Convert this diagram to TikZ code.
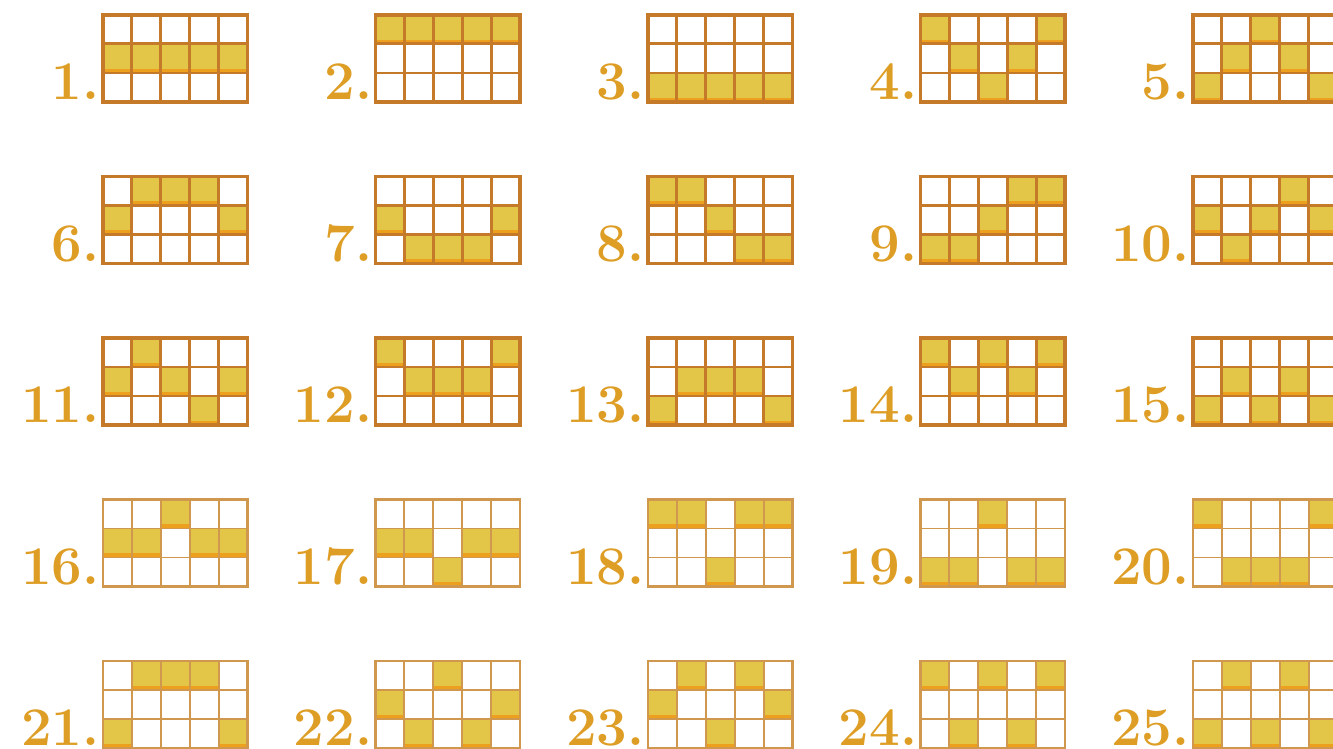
\documentclass[tikz,border=0pt]{standalone}
\usepackage{tikz}
\usetikzlibrary{calc}
\definecolor{linegold}{RGB}{196,122,40}
\definecolor{linetan}{RGB}{208,152,78}
\definecolor{cellgold}{RGB}{227,197,71}
\definecolor{celledge}{RGB}{236,160,30}
\definecolor{numgold}{RGB}{222,158,38}
\tikzset{
  gridline/.style={draw=#1},
  cellfill/.style={fill=cellgold},
  numlabel/.style={text=numgold, font=\fontsize{31}{31}\selectfont\bfseries, inner sep=0pt, anchor=base east}
}

\begin{document}
\begin{tikzpicture}[x=0.02cm,y=-0.02cm]
\useasboundingbox (0,0) rectangle (1333,749);
\clip (0,0) rectangle (1333,749);
% filled cells of each line: column/row
\foreach \n/\cells in {
  1/{1/2,2/2,3/2,4/2,5/2}, 2/{1/1,2/1,3/1,4/1,5/1}, 3/{1/3,2/3,3/3,4/3,5/3},
  4/{1/1,5/1,2/2,4/2,3/3}, 5/{3/1,2/2,4/2,1/3,5/3}, 6/{2/1,3/1,4/1,1/2,5/2},
  7/{1/2,5/2,2/3,3/3,4/3}, 8/{1/1,2/1,3/2,4/3,5/3}, 9/{4/1,5/1,3/2,1/3,2/3},
  10/{4/1,1/2,3/2,5/2,2/3}, 11/{2/1,1/2,3/2,5/2,4/3}, 12/{1/1,5/1,2/2,3/2,4/2},
  13/{2/2,3/2,4/2,1/3,5/3}, 14/{1/1,3/1,5/1,2/2,4/2}, 15/{2/2,4/2,1/3,3/3,5/3},
  16/{3/1,1/2,2/2,4/2,5/2}, 17/{1/2,2/2,4/2,5/2,3/3}, 18/{1/1,2/1,4/1,5/1,3/3},
  19/{3/1,1/3,2/3,4/3,5/3}, 20/{1/1,5/1,2/3,3/3,4/3}, 21/{2/1,3/1,4/1,1/3,5/3},
  22/{3/1,1/2,5/2,2/3,4/3}, 23/{2/1,4/1,1/2,5/2,3/3}, 24/{1/1,3/1,5/1,2/3,4/3},
  25/{2/1,4/1,1/3,3/3,5/3}} {
  \pgfmathsetmacro\gx{103+272.5*mod(\n-1,5)}
  \pgfmathsetmacro\gy{15+161.5*floor((\n-1)/5)}
  \pgfmathsetmacro\lw{\n>15 ? 1.1 : 1.7}
  \ifnum\n>15 \def\lc{linetan}\else\def\lc{linegold}\fi
  \foreach \c/\r in \cells {
    \fill[cellfill] (\gx+28.9*\c-28.9,\gy+29*\r-29) rectangle +(28.9,29);
    \fill[celledge] (\gx+28.9*\c-28.9,\gy+29*\r-4) rectangle +(28.9,4);
  }
  \foreach \k in {1,...,4}
    \draw[gridline=\lc, line width=\lw pt] (\gx+28.9*\k,\gy) -- +(0,87);
  \foreach \k in {1,2}
    \draw[gridline=\lc, line width=\lw pt] (\gx,\gy+29*\k) -- +(144.5,0);
  \draw[gridline=\lc, line width=\lw pt+0.4pt] (\gx,\gy) rectangle +(144.5,87);
  \node[numlabel] (num\n) at (\gx-3,\gy+85) {\n.};
}
\end{tikzpicture}
\end{document}
